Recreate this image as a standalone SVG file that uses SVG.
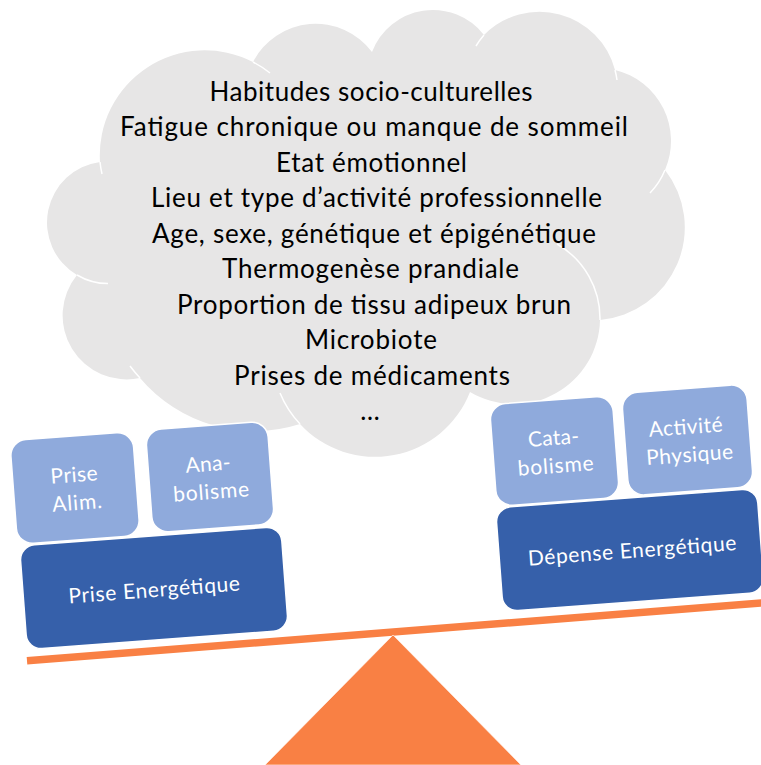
<svg xmlns="http://www.w3.org/2000/svg" width="761" height="765" viewBox="0 0 761 765">
  <style>
    .cloudtxt { font-family: Lato, "Liberation Sans", sans-serif; font-size: 26px; fill: #000; text-anchor: middle; }
    .boxtxt { font-family: Lato, "Liberation Sans", sans-serif; font-size: 21px; fill: #fff; text-anchor: middle; }
    .light { fill: #8FAADC; stroke: #fff; stroke-width: 1.5; }
    .dark { fill: #3660AA; stroke: #fff; stroke-width: 1.5; }
    .inner { fill: none; stroke: #fff; stroke-width: 1.5; }
    .orange { fill: #F98044; }
  </style>
  <rect width="761" height="765" fill="#fff"/>

  <g id="cloud">
    <path fill="#E7E6E6" d="M100,162 A105,105 0 0 1 253,62 A70.5,70.5 0 0 1 372,52 A65,65 0 0 1 484,35 A78,78 0 0 1 615,70 A73,73 0 0 1 665,170 A93,93 0 0 1 600,320 A86,86 0 0 1 470,392 A102,102 0 0 1 300,424 A150,150 0 0 1 140,378 A64,64 0 0 1 77,275 A61,61 0 0 1 100,162 Z"/>
    <path class="inner" d="M100,162 A105,105 0 0 0 102,174"/>
    <path class="inner" d="M253,62 A105,105 0 0 1 270,73"/>
    <path class="inner" d="M484,35 A78,78 0 0 0 476,46"/>
    <path class="inner" d="M615,70 A78,78 0 0 1 617,80"/>
    <path class="inner" d="M665,170 A73,73 0 0 1 650,193"/>
    <path class="inner" d="M600,320 A86,86 0 0 0 557,244"/>
    <path class="inner" d="M300,424 A102,102 0 0 1 280,393"/>
    <path class="inner" d="M140,378 A150,150 0 0 1 130,366"/>
    <path class="inner" d="M77,275 A61,61 0 0 0 108,283.6"/>
    <text class="cloudtxt" x="371" y="100.7" textLength="323">Habitudes socio-culturelles</text>
    <text class="cloudtxt" x="374" y="136.2" textLength="508">Fatigue chronique ou manque de sommeil</text>
    <text class="cloudtxt" x="371.5" y="171.7" textLength="191">Etat émotionnel</text>
    <text class="cloudtxt" x="376.5" y="207.2" textLength="451">Lieu et type d’activité professionnelle</text>
    <text class="cloudtxt" x="374" y="242.7" textLength="444">Age, sexe, génétique et épigénétique</text>
    <text class="cloudtxt" x="370.5" y="278.2" textLength="297">Thermogenèse prandiale</text>
    <text class="cloudtxt" x="374" y="313.7" textLength="394">Proportion de tissu adipeux brun</text>
    <text class="cloudtxt" x="371" y="349.2" textLength="132">Microbiote</text>
    <text class="cloudtxt" x="372" y="384.7" textLength="276">Prises de médicaments</text>
    <text class="cloudtxt" x="370" y="420.2">…</text>
  </g>

  <g id="seesaw">
    <line x1="27" y1="660.8" x2="765" y2="602.7" stroke="#F98044" stroke-width="7.5"/>
    <polygon class="orange" points="393,635 265,765 521,765" stroke="#fff" stroke-width="1" stroke-opacity="0.6"/>
  </g>

  <g id="prise-alim" transform="translate(75,488) rotate(-4.3)">
    <rect class="light" x="-61.5" y="-52" width="123" height="104" rx="16"/>
    <text class="boxtxt" x="0" y="-6" textLength="47">Prise</text>
    <text class="boxtxt" x="1" y="22" textLength="50">Alim.</text>
  </g>
  <g id="anabolisme" transform="translate(210,477) rotate(-4.3)">
    <rect class="light" x="-61" y="-51.5" width="122" height="103" rx="16"/>
    <text class="boxtxt" x="-1" y="-6" textLength="45">Ana-</text>
    <text class="boxtxt" x="0" y="22" textLength="76">bolisme</text>
  </g>
  <g id="prise-energetique" transform="translate(154,588) rotate(-4.3)">
    <rect class="dark" x="-131" y="-52" width="262" height="104" rx="15"/>
    <text class="boxtxt" x="0" y="9" textLength="172">Prise Energétique</text>
  </g>

  <g id="catabolisme" transform="translate(554.5,451) rotate(-4.3)">
    <rect class="light" x="-61.5" y="-51" width="123" height="102" rx="16"/>
    <text class="boxtxt" x="0" y="-6" textLength="51">Cata-</text>
    <text class="boxtxt" x="0" y="22" textLength="76">bolisme</text>
  </g>
  <g id="activite-physique" transform="translate(687.5,440) rotate(-4.3)">
    <rect class="light" x="-62.5" y="-51.5" width="125" height="103" rx="16"/>
    <text class="boxtxt" x="-1" y="-6" textLength="74">Activité</text>
    <text class="boxtxt" x="1" y="22" textLength="87">Physique</text>
  </g>
  <g id="depense-energetique" transform="translate(630,550) rotate(-4.3)">
    <rect class="dark" x="-131" y="-52" width="262" height="104" rx="15"/>
    <text class="boxtxt" x="2" y="8" textLength="209">Dépense Energétique</text>
  </g>
</svg>
